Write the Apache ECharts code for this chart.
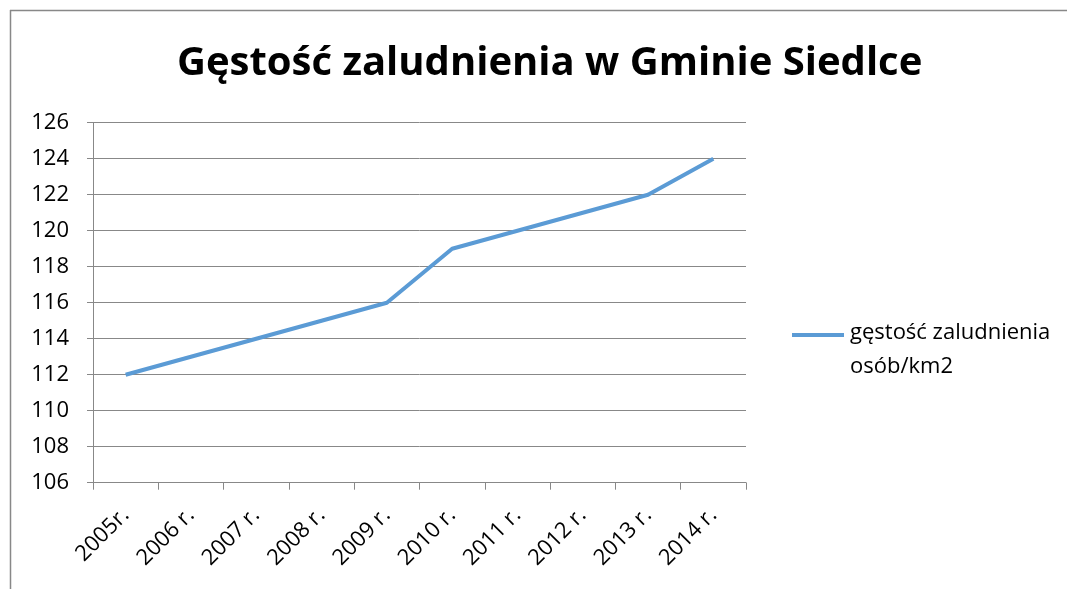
<!DOCTYPE html>
<html>
<head>
<meta charset="utf-8">
<script src="https://cdn.jsdelivr.net/npm/echarts@6/dist/echarts.min.js"></script>
<style>
  html, body { margin: 0; padding: 0; background: #fff; }
  #main { width: 1067px; height: 589px; }
</style>
</head>
<body>
<div id="main"></div>
<script>
// dane z wykresu
var years = ['2005r.', '2006 r.', '2007 r.', '2008 r.', '2009 r.', '2010 r.', '2011 r.', '2012 r.', '2013 r.', '2014 r.']
var density = [112, 113, 114, 115, 116, 119, 120, 121, 122, 124]
var seriesName = 'gęstość zaludnienia\nosób/km2'
var yMin = 106, yMax = 126, yStep = 2

var font = '"Open Sans", "Noto Sans", sans-serif'
var gridColor = '#888888'
var lineColor = '#5B9BD5'

var chart = echarts.init(document.getElementById('main'))
var option = {
    backgroundColor: '#fff',
    animation: false,
    title: {
        text: 'Gęstość zaludnienia w Gminie Siedlce',
        left: 172,
        top: 39,
        textStyle: {
            color: '#000',
            fontSize: 40,
            fontWeight: 'bold',
            fontFamily: font
        }
    },
    legend: {
        orient: 'vertical',
        left: 787,
        top: 311,
        itemWidth: 52,
        itemHeight: 34,
        itemGap: 0,
        // kreska na wysokosci pierwszej linii tekstu
        icon: 'path://M0,0L52,0L52,4L0,4Z M0,34L0.01,34Z',
        data: [seriesName],
        textStyle: {
            color: '#000',
            fontSize: 22,
            fontFamily: font,
            lineHeight: 34,
            padding: [0, 0, 0, 1]
        }
    },
    grid: {
        left: 93,
        right: 1067 - 746,
        top: 122.7,
        bottom: 589 - 482.7
    },
    xAxis: {
        type: 'category',
        data: years,
        boundaryGap: true,
        axisLine: { show: true, lineStyle: { color: gridColor, width: 1 } },
        axisTick: { show: true, length: 7, lineStyle: { color: gridColor } },
        axisLabel: {
            rotate: 45,
            margin: 29,
            color: '#000',
            fontSize: 22,
            fontFamily: font,
            interval: 0
        }
    },
    yAxis: {
        type: 'value',
        min: yMin,
        max: yMax,
        interval: yStep,
        axisLine: { show: true, lineStyle: { color: gridColor, width: 1 } },
        axisTick: { show: true, length: 6, lineStyle: { color: gridColor } },
        splitLine: { show: true, lineStyle: { color: gridColor, width: 1 } },
        axisLabel: {
            margin: 24,
            color: '#000',
            fontSize: 22,
            fontFamily: font
        }
    },
    graphic: [
        { type: 'line', shape: { x1: 10, y1: 10.5, x2: 1067, y2: 10.5 }, style: { stroke: '#888', lineWidth: 1.5 } },
        { type: 'line', shape: { x1: 10.5, y1: 10, x2: 10.5, y2: 589 }, style: { stroke: '#888', lineWidth: 1.5 } }
    ],
    series: [{
        name: seriesName,
        type: 'line',
        data: density,
        symbol: 'none',
        lineStyle: { color: lineColor, width: 4 },
        itemStyle: { color: lineColor }
    }]
}
chart.setOption(option)
</script>
</body>
</html>
